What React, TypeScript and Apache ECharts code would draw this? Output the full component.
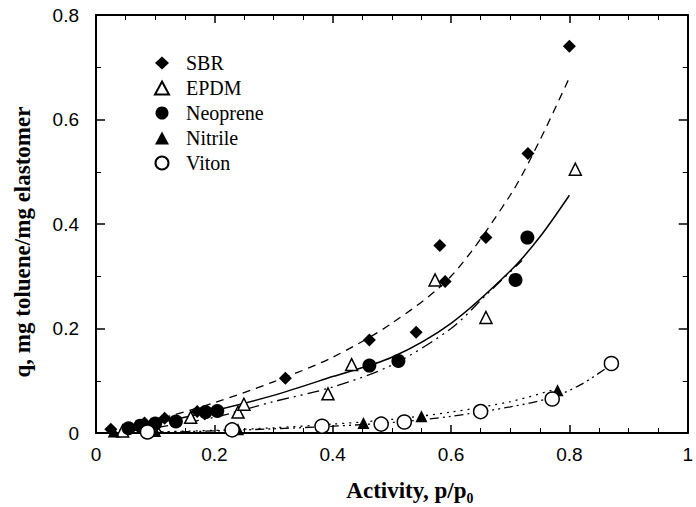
import React, { useEffect, useRef } from "react";
import * as echarts from "echarts";

// Measured points [activity, q]
const sbrPoints = [[0.025, 0.007], [0.082, 0.019], [0.116, 0.028], [0.171, 0.041], [0.32, 0.105], [0.462, 0.178], [0.541, 0.193], [0.581, 0.359], [0.59, 0.29], [0.659, 0.374], [0.73, 0.535], [0.8, 0.74]];
const epdmPoints = [[0.045, 0.004], [0.1, 0.012], [0.16, 0.03], [0.24, 0.04], [0.25, 0.055], [0.392, 0.075], [0.432, 0.131], [0.573, 0.293], [0.659, 0.221], [0.81, 0.505]];
const neoprenePoints = [[0.055, 0.009], [0.075, 0.014], [0.1, 0.018], [0.135, 0.022], [0.185, 0.04], [0.205, 0.042], [0.462, 0.129], [0.511, 0.138], [0.709, 0.293], [0.729, 0.374]];
const nitrilePoints = [[0.03, 0.003], [0.1, 0.004], [0.24, 0.007], [0.452, 0.019], [0.55, 0.032], [0.78, 0.082]];
const vitonPoints = [[0.087, 0.002], [0.23, 0.006], [0.382, 0.013], [0.482, 0.017], [0.521, 0.021], [0.65, 0.041], [0.771, 0.065], [0.871, 0.133]];

// Fitted curves
const sbrFit = [[0.02, 0.005], [0.1, 0.025], [0.2, 0.058], [0.3, 0.098], [0.4, 0.145], [0.5, 0.21], [0.6, 0.3], [0.7, 0.455], [0.75, 0.56], [0.8, 0.68]];
const neopreneFit = [[0.04, 0.006], [0.1, 0.018], [0.2, 0.043], [0.3, 0.072], [0.4, 0.108], [0.5, 0.145], [0.6, 0.21], [0.7, 0.31], [0.75, 0.375], [0.8, 0.455]];
const epdmFit = [[0.05, 0.003], [0.1, 0.01], [0.2, 0.03], [0.3, 0.06], [0.4, 0.088], [0.5, 0.13], [0.6, 0.2], [0.66, 0.265], [0.72, 0.33]];
const nitrileFit = [[0.05, 0.001], [0.2, 0.005], [0.3, 0.01], [0.4, 0.017], [0.5, 0.026], [0.6, 0.04], [0.7, 0.06], [0.78, 0.085]];
const vitonFit = [[0.1, 0.001], [0.2, 0.004], [0.3, 0.008], [0.4, 0.013], [0.5, 0.02], [0.6, 0.032], [0.7, 0.05], [0.77, 0.068], [0.82, 0.093], [0.87, 0.13]];

const legendNames = ["SBR", "EPDM", "Neoprene", "Nitrile", "Viton"];
const xTitle = "Activity, p/p₀";
const yTitle = "q, mg toluene/mg elastomer";

const serif = "'Liberation Serif', 'Times New Roman', serif";
const sans = "'Liberation Sans', Arial, sans-serif";

function fitLine(data: number[][], type: any, width = 1.3) {
  return {
    type: "line",
    data,
    smooth: 0.3,
    showSymbol: false,
    symbol: "none",
    silent: true,
    lineStyle: { color: "#000", width, type },
    z: 2,
  };
}

function scatter(name: string, data: number[][], symbol: string, size: number, filled: boolean) {
  return {
    name,
    type: "scatter",
    data,
    symbol,
    symbolSize: size,
    itemStyle: filled
      ? { color: "#000", opacity: 1 }
      : { color: "#fff", borderColor: "#000", borderWidth: 1.5, opacity: 1 },
    z: 3,
  };
}

export default function App() {
  const ref = useRef<HTMLDivElement>(null);
  useEffect(() => {
    const chart = echarts.init(ref.current!, null, { renderer: "svg" });
    const tickStyle = { color: "#000", width: 1.5 };
    chart.setOption({
      animation: false,
      backgroundColor: "#fff",
      grid: { left: 96, right: 5, top: 15, bottom: 64, show: false },
      legend: {
        data: legendNames,
        orient: "vertical",
        left: 149,
        top: 48,
        itemWidth: 14,
        itemHeight: 13,
        itemGap: 5,
        textStyle: { fontFamily: serif, fontSize: 20, color: "#000", padding: [0, 0, 0, 12] },
      },
      xAxis: [
        {
          type: "value",
          min: 0,
          max: 1,
          interval: 0.2,
          position: "bottom",
          axisLine: { show: true, onZero: false, lineStyle: { color: "#000", width: 2 } },
          axisTick: { show: true, inside: true, length: 8, lineStyle: tickStyle },
          minorTick: { show: true, splitNumber: 4, length: 5, lineStyle: { color: "#000", width: 1 } },
          splitLine: { show: false },
          axisLabel: { color: "#000", fontFamily: sans, fontSize: 19, margin: 12 },
          name: xTitle,
          nameLocation: "middle",
          nameGap: 46,
          nameTextStyle: { fontFamily: serif, fontSize: 23, fontWeight: "bold", color: "#000", padding: [0, 0, 0, 36] },
        },
        {
          type: "value",
          min: 0,
          max: 1,
          interval: 0.2,
          position: "top",
          axisLine: { show: true, onZero: false, lineStyle: { color: "#000", width: 2 } },
          axisTick: { show: true, inside: true, length: 8, lineStyle: tickStyle },
          minorTick: { show: true, splitNumber: 4, length: 5, lineStyle: { color: "#000", width: 1 } },
          splitLine: { show: false },
          axisLabel: { show: false },
        },
      ],
      yAxis: [
        {
          type: "value",
          min: 0,
          max: 0.8,
          interval: 0.2,
          position: "left",
          axisLine: { show: true, onZero: false, lineStyle: { color: "#000", width: 2 } },
          axisTick: { show: true, inside: true, length: 9, lineStyle: tickStyle },
          minorTick: { show: true, splitNumber: 2, length: 5, lineStyle: { color: "#000", width: 1 } },
          splitLine: { show: false },
          axisLabel: { color: "#000", fontFamily: sans, fontSize: 19, margin: 17 },
          name: yTitle,
          nameLocation: "middle",
          nameGap: 62,
          nameRotate: 90,
          nameTextStyle: { fontFamily: serif, fontSize: 23, fontWeight: "bold", color: "#000", padding: [0, 36, 0, 0] },
        },
        {
          type: "value",
          min: 0,
          max: 0.8,
          interval: 0.2,
          position: "right",
          axisLine: { show: true, onZero: false, lineStyle: { color: "#000", width: 2 } },
          axisTick: { show: true, inside: true, length: 9, lineStyle: tickStyle },
          minorTick: { show: true, splitNumber: 2, length: 5, lineStyle: { color: "#000", width: 1 } },
          splitLine: { show: false },
          axisLabel: { show: false },
        },
      ],
      series: [
        fitLine(sbrFit, [8, 6]),
        fitLine(neopreneFit, "solid", 1.5),
        fitLine(epdmFit, [12, 5, 2, 5, 2, 5]),
        fitLine(nitrileFit, [2, 5]),
        fitLine(vitonFit, [9, 4, 2, 4, 2, 4]),
        scatter("SBR", sbrPoints, "diamond", 13, true),
        scatter("EPDM", epdmPoints, "triangle", 12, false),
        scatter("Neoprene", neoprenePoints, "circle", 14, true),
        scatter("Nitrile", nitrilePoints, "triangle", 12, true),
        scatter("Viton", vitonPoints, "circle", 14, false),
      ],
    });
    return () => chart.dispose();
  }, []);
  return (
    <div
      ref={ref}
      style={{ position: "absolute", left: 0, top: 0, width: 696, height: 507, background: "#fff" }}
    />
  );
}
